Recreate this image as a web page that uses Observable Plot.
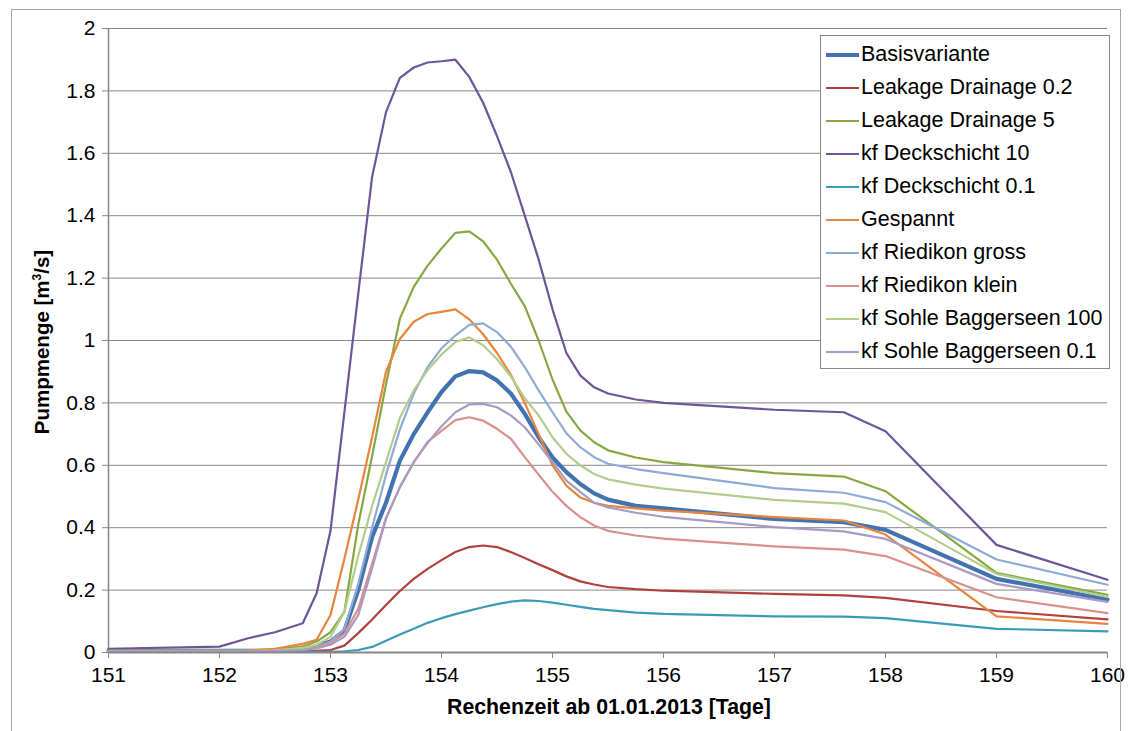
<!DOCTYPE html>
<html>
<head>
<meta charset="utf-8">
<script src="https://cdn.jsdelivr.net/npm/d3@7"></script>
<script src="https://cdn.jsdelivr.net/npm/@observablehq/plot@0.6"></script>
<style>
  html, body { margin: 0; padding: 0; background: #fff; }
  body { font-family: "Liberation Sans", Arial, sans-serif; }
  #wrap { position: relative; width: 1130px; height: 731px; overflow: hidden; }
  #frame { position: absolute; left: 11px; top: 9px; width: 1110px; height: 760px; border: 1px solid #a6a6a6; box-sizing: border-box; }
  #legend { position: absolute; left: 820px; top: 35px; width: 290px; height: 334px; background: #fff; border: 1px solid #868686; box-sizing: border-box; }
  .li { position: absolute; left: 0; height: 33px; display: flex; align-items: center; font-size: 21.5px; color: #000; white-space: nowrap; }
  .li span.sw { display: inline-block; width: 33px; margin-left: 5px; margin-right: 2px; }
  .ytitle { position: absolute; left: 42px; top: 342px; transform: translate(-50%, -50%) rotate(-90deg); font-weight: bold; font-size: 20.5px; white-space: nowrap; }
  .xtitle { position: absolute; left: 609px; top: 707px; transform: translate(-50%, -50%); font-weight: bold; font-size: 21.3px; white-space: nowrap; }
</style>
</head>
<body>
<div id="wrap">
  <div id="frame"></div>
  <div id="chart"></div>
  <div class="ytitle">Pumpmenge [m<sup style="font-size:12px">3</sup>/s]</div>
  <div class="xtitle">Rechenzeit ab 01.01.2013 [Tage]</div>
  <div id="legend"></div>
</div>
<script>
const days = [151, 152, 152.25, 152.5, 152.75, 152.875, 153, 153.125, 153.25, 153.375, 153.5, 153.625, 153.75, 153.875, 154, 154.125, 154.25, 154.375, 154.5, 154.625, 154.75, 154.875, 155, 155.125, 155.25, 155.375, 155.5, 155.75, 156, 157, 157.625, 158, 159, 160];

const seriesNames = ["Basisvariante", "Leakage Drainage 0.2", "Leakage Drainage 5", "kf Deckschicht 10", "kf Deckschicht 0.1", "Gespannt", "kf Riedikon gross", "kf Riedikon klein", "kf Sohle Baggerseen 100", "kf Sohle Baggerseen 0.1"];
const seriesColors = ["#4272b0", "#b0403d", "#86a843", "#6e5598", "#3a9bb6", "#e8843c", "#8eaad5", "#d98f8c", "#b2cd8a", "#a99ac3"];

const basisvariante = [0.005, 0.005, 0.005, 0.006, 0.012, 0.02, 0.035, 0.07, 0.2, 0.37, 0.48, 0.615, 0.70, 0.77, 0.835, 0.885, 0.902, 0.898, 0.872, 0.83, 0.765, 0.69, 0.625, 0.578, 0.54, 0.51, 0.49, 0.47, 0.462, 0.428, 0.418, 0.393, 0.236, 0.17];
const leakage02 = [0.003, 0.003, 0.003, 0.003, 0.004, 0.005, 0.008, 0.022, 0.062, 0.106, 0.152, 0.197, 0.236, 0.268, 0.296, 0.322, 0.338, 0.343, 0.338, 0.322, 0.303, 0.283, 0.264, 0.244, 0.228, 0.218, 0.21, 0.203, 0.198, 0.188, 0.183, 0.175, 0.133, 0.106];
const leakage5 = [0.005, 0.005, 0.006, 0.01, 0.02, 0.035, 0.065, 0.13, 0.41, 0.63, 0.86, 1.07, 1.172, 1.24, 1.295, 1.345, 1.35, 1.318, 1.259, 1.182, 1.11, 1.0, 0.875, 0.772, 0.712, 0.674, 0.648, 0.625, 0.61, 0.575, 0.564, 0.517, 0.255, 0.185];
const deck10 = [0.012, 0.019, 0.045, 0.065, 0.094, 0.19, 0.39, 0.77, 1.15, 1.525, 1.732, 1.842, 1.875, 1.891, 1.895, 1.90, 1.845, 1.762, 1.655, 1.54, 1.40, 1.26, 1.10, 0.96, 0.888, 0.85, 0.83, 0.811, 0.80, 0.778, 0.77, 0.709, 0.345, 0.233];
const deck01 = [0.002, 0.002, 0.002, 0.002, 0.002, 0.002, 0.002, 0.004, 0.008, 0.018, 0.038, 0.058, 0.076, 0.095, 0.11, 0.123, 0.134, 0.145, 0.155, 0.163, 0.167, 0.165, 0.16, 0.153, 0.146, 0.14, 0.136, 0.128, 0.124, 0.116, 0.115, 0.11, 0.076, 0.068];
const gespannt = [0.005, 0.005, 0.006, 0.012, 0.028, 0.041, 0.12, 0.30, 0.49, 0.69, 0.90, 1.005, 1.06, 1.085, 1.092, 1.10, 1.068, 1.02, 0.96, 0.89, 0.80, 0.70, 0.60, 0.535, 0.497, 0.48, 0.47, 0.462, 0.455, 0.434, 0.423, 0.378, 0.116, 0.092];
const riedGross = [0.004, 0.004, 0.004, 0.005, 0.01, 0.018, 0.035, 0.075, 0.22, 0.40, 0.57, 0.715, 0.83, 0.915, 0.975, 1.016, 1.05, 1.055, 1.027, 0.98, 0.915, 0.84, 0.77, 0.703, 0.658, 0.626, 0.605, 0.588, 0.575, 0.527, 0.512, 0.482, 0.298, 0.217];
const riedKlein = [0.004, 0.004, 0.004, 0.005, 0.009, 0.015, 0.03, 0.06, 0.14, 0.285, 0.43, 0.53, 0.61, 0.675, 0.71, 0.745, 0.754, 0.743, 0.717, 0.685, 0.626, 0.57, 0.515, 0.47, 0.434, 0.407, 0.39, 0.375, 0.365, 0.34, 0.33, 0.309, 0.177, 0.126];
const sohle100 = [0.005, 0.005, 0.005, 0.007, 0.015, 0.025, 0.05, 0.13, 0.31, 0.47, 0.61, 0.752, 0.84, 0.905, 0.955, 0.995, 1.01, 0.985, 0.94, 0.885, 0.815, 0.76, 0.69, 0.637, 0.60, 0.572, 0.555, 0.538, 0.525, 0.489, 0.477, 0.45, 0.252, 0.178];
const sohle01 = [0.004, 0.004, 0.004, 0.005, 0.008, 0.013, 0.025, 0.05, 0.12, 0.27, 0.43, 0.53, 0.61, 0.672, 0.725, 0.77, 0.795, 0.797, 0.786, 0.76, 0.722, 0.667, 0.61, 0.551, 0.515, 0.48, 0.465, 0.448, 0.435, 0.402, 0.388, 0.364, 0.22, 0.162];

const xTicks = [151, 152, 153, 154, 155, 156, 157, 158, 159, 160];
const yTicks = [0, 0.2, 0.4, 0.6, 0.8, 1, 1.2, 1.4, 1.6, 1.8, 2];

const allValues = [basisvariante, leakage02, leakage5, deck10, deck01, gespannt, riedGross, riedKlein, sohle100, sohle01];
const rows = seriesNames.flatMap((name, i) => allValues[i].map((v, j) => ({day: days[j], value: v, series: name, order: i})));

const axisColor = "#868686";
const plot = Plot.plot({
  width: 1130,
  height: 731,
  marginLeft: 108,
  marginRight: 23,
  marginTop: 28,
  marginBottom: 79,
  style: {fontFamily: "'Liberation Sans', Arial, sans-serif", fontSize: "21px", color: "#000", background: "transparent", overflow: "visible"},
  x: {domain: [151, 160], ticks: xTicks},
  y: {domain: [0, 2], ticks: yTicks},
  color: {domain: seriesNames, range: seriesColors},
  marks: [
    Plot.gridY(yTicks, {stroke: axisColor, strokeOpacity: 1, strokeWidth: 1}),
    Plot.axisY(yTicks, {tickSize: 6, tickPadding: 7, stroke: axisColor, label: null, tickFormat: d => String(d), fontSize: 21}),
    Plot.axisX(xTicks, {tickSize: 6, tickPadding: 9, stroke: axisColor, label: null, tickFormat: d => String(d), fontSize: 21}),
    Plot.ruleX([151], {stroke: axisColor, strokeWidth: 1.5}),
    Plot.line(rows.filter(d => d.order === 0), {x: "day", y: "value", z: "series", stroke: "series", strokeWidth: 4.2, strokeLinejoin: "round"}),
    Plot.line(rows.filter(d => d.order > 0), {x: "day", y: "value", z: "series", stroke: "series", strokeWidth: 2.2, strokeLinejoin: "round"}),
    Plot.ruleY([0], {stroke: axisColor, strokeWidth: 2})
  ]
});
document.getElementById("chart").appendChild(plot);

const legend = document.getElementById("legend");
seriesNames.forEach((name, i) => {
  const row = document.createElement("div");
  row.className = "li";
  row.style.top = (2 + i * 33) + "px";
  const sw = document.createElement("span");
  sw.className = "sw";
  sw.style.height = (i === 0 ? 4 : 2) + "px";
  sw.style.background = seriesColors[i];
  row.appendChild(sw);
  row.appendChild(document.createTextNode(name));
  legend.appendChild(row);
});
</script>
</body>
</html>
